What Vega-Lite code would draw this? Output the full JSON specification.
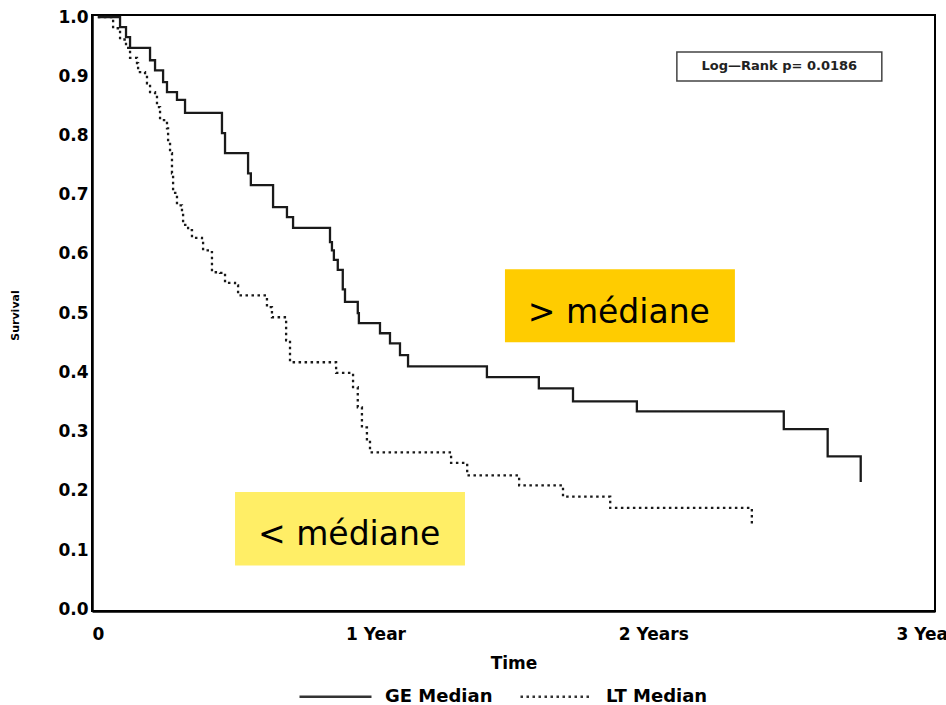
{
  "$schema": "https://vega.github.io/schema/vega-lite/v6.json",
  "width": 843,
  "height": 596,
  "autosize": {"type": "none"},
  "padding": {"left": 92, "top": 15, "right": 11, "bottom": 94},
  "background": "white",
  "config": {
    "view": {"stroke": "black", "strokeWidth": 2},
    "font": "DejaVu Sans",
    "axis": {
      "domainColor": "black", "domainWidth": 2.5, "tickSize": 0, "ticks": false,
      "labelFont": "DejaVu Sans", "labelFontWeight": "bold", "labelFontSize": 17, "labelColor": "black",
      "titleFont": "DejaVu Sans", "titleFontWeight": "bold", "titleColor": "black", "grid": false
    }
  },
  "datasets": {
    "curves": [
      {"group": "GE Median", "t": 0, "s": 1},
      {"group": "GE Median", "t": 0.080, "s": 0.983},
      {"group": "GE Median", "t": 0.1015, "s": 0.966},
      {"group": "GE Median", "t": 0.116, "s": 0.948},
      {"group": "GE Median", "t": 0.188, "s": 0.927},
      {"group": "GE Median", "t": 0.206, "s": 0.910},
      {"group": "GE Median", "t": 0.235, "s": 0.890},
      {"group": "GE Median", "t": 0.249, "s": 0.873},
      {"group": "GE Median", "t": 0.285, "s": 0.860},
      {"group": "GE Median", "t": 0.314, "s": 0.838},
      {"group": "GE Median", "t": 0.447, "s": 0.804},
      {"group": "GE Median", "t": 0.458, "s": 0.770},
      {"group": "GE Median", "t": 0.541, "s": 0.736},
      {"group": "GE Median", "t": 0.551, "s": 0.716},
      {"group": "GE Median", "t": 0.631, "s": 0.679},
      {"group": "GE Median", "t": 0.681, "s": 0.662},
      {"group": "GE Median", "t": 0.703, "s": 0.644},
      {"group": "GE Median", "t": 0.836, "s": 0.620},
      {"group": "GE Median", "t": 0.843, "s": 0.606},
      {"group": "GE Median", "t": 0.850, "s": 0.590},
      {"group": "GE Median", "t": 0.864, "s": 0.573},
      {"group": "GE Median", "t": 0.882, "s": 0.540},
      {"group": "GE Median", "t": 0.890, "s": 0.519},
      {"group": "GE Median", "t": 0.936, "s": 0.500},
      {"group": "GE Median", "t": 0.940, "s": 0.483},
      {"group": "GE Median", "t": 1.016, "s": 0.466},
      {"group": "GE Median", "t": 1.052, "s": 0.449},
      {"group": "GE Median", "t": 1.088, "s": 0.429},
      {"group": "GE Median", "t": 1.117, "s": 0.410},
      {"group": "GE Median", "t": 1.401, "s": 0.392},
      {"group": "GE Median", "t": 1.588, "s": 0.373},
      {"group": "GE Median", "t": 1.711, "s": 0.351},
      {"group": "GE Median", "t": 1.941, "s": 0.334},
      {"group": "GE Median", "t": 2.470, "s": 0.304},
      {"group": "GE Median", "t": 2.628, "s": 0.258},
      {"group": "GE Median", "t": 2.747, "s": 0.215},
      {"group": "LT Median", "t": 0, "s": 1},
      {"group": "LT Median", "t": 0.055, "s": 0.981},
      {"group": "LT Median", "t": 0.080, "s": 0.962},
      {"group": "LT Median", "t": 0.1015, "s": 0.948},
      {"group": "LT Median", "t": 0.116, "s": 0.931},
      {"group": "LT Median", "t": 0.141, "s": 0.922},
      {"group": "LT Median", "t": 0.145, "s": 0.907},
      {"group": "LT Median", "t": 0.170, "s": 0.902},
      {"group": "LT Median", "t": 0.177, "s": 0.888},
      {"group": "LT Median", "t": 0.188, "s": 0.873},
      {"group": "LT Median", "t": 0.206, "s": 0.868},
      {"group": "LT Median", "t": 0.213, "s": 0.848},
      {"group": "LT Median", "t": 0.224, "s": 0.826},
      {"group": "LT Median", "t": 0.249, "s": 0.812},
      {"group": "LT Median", "t": 0.253, "s": 0.790},
      {"group": "LT Median", "t": 0.260, "s": 0.770},
      {"group": "LT Median", "t": 0.267, "s": 0.736},
      {"group": "LT Median", "t": 0.271, "s": 0.703},
      {"group": "LT Median", "t": 0.285, "s": 0.682},
      {"group": "LT Median", "t": 0.303, "s": 0.671},
      {"group": "LT Median", "t": 0.307, "s": 0.649},
      {"group": "LT Median", "t": 0.325, "s": 0.640},
      {"group": "LT Median", "t": 0.339, "s": 0.627},
      {"group": "LT Median", "t": 0.375, "s": 0.623},
      {"group": "LT Median", "t": 0.379, "s": 0.606},
      {"group": "LT Median", "t": 0.404, "s": 0.603},
      {"group": "LT Median", "t": 0.411, "s": 0.569},
      {"group": "LT Median", "t": 0.440, "s": 0.568},
      {"group": "LT Median", "t": 0.458, "s": 0.551},
      {"group": "LT Median", "t": 0.494, "s": 0.547},
      {"group": "LT Median", "t": 0.505, "s": 0.530},
      {"group": "LT Median", "t": 0.609, "s": 0.510},
      {"group": "LT Median", "t": 0.627, "s": 0.493},
      {"group": "LT Median", "t": 0.678, "s": 0.454},
      {"group": "LT Median", "t": 0.692, "s": 0.417},
      {"group": "LT Median", "t": 0.858, "s": 0.399},
      {"group": "LT Median", "t": 0.919, "s": 0.375},
      {"group": "LT Median", "t": 0.936, "s": 0.341},
      {"group": "LT Median", "t": 0.951, "s": 0.307},
      {"group": "LT Median", "t": 0.969, "s": 0.285},
      {"group": "LT Median", "t": 0.980, "s": 0.265},
      {"group": "LT Median", "t": 1.272, "s": 0.247},
      {"group": "LT Median", "t": 1.330, "s": 0.226},
      {"group": "LT Median", "t": 1.517, "s": 0.209},
      {"group": "LT Median", "t": 1.675, "s": 0.190},
      {"group": "LT Median", "t": 1.845, "s": 0.171},
      {"group": "LT Median", "t": 2.355, "s": 0.139}
    ],
    "notes": [
      {"label": "> médiane", "t1": 1.466, "t2": 2.294, "s1": 0.451, "s2": 0.574, "tx": 1.876, "ty": 0.483},
      {"label": "< médiane", "t1": 0.494, "t2": 1.322, "s1": 0.074, "s2": 0.198, "tx": 0.905, "ty": 0.108}
    ],
    "logrank": [
      {"label": "Log\u2014Rank  p= 0.0186", "t1": 2.085, "t2": 2.823, "s1": 0.892, "s2": 0.941, "tx": 2.454, "ty": 0.9165}
    ]
  },
  "layer": [
    {
      "data": {"name": "notes"},
      "mark": {"type": "rect"},
      "encoding": {
        "x": {"field": "t1", "type": "quantitative", "scale": {"domain": [-0.021, 3.0145], "nice": false, "zero": false}},
        "x2": {"field": "t2"},
        "y": {"field": "s1", "type": "quantitative", "scale": {"domain": [-0.003, 1.0034], "nice": false, "zero": false}},
        "y2": {"field": "s2"},
        "fill": {"field": "label", "type": "nominal", "scale": {"domain": ["> médiane", "< médiane"], "range": ["#FFCC00", "#FFEE66"]}, "legend": null}
      }
    },
    {
      "data": {"name": "notes"},
      "mark": {"type": "text", "font": "DejaVu Sans", "fontSize": 33, "color": "black", "align": "center", "baseline": "alphabetic"},
      "encoding": {
        "x": {"field": "tx", "type": "quantitative"},
        "y": {"field": "ty", "type": "quantitative"},
        "text": {"field": "label"}
      }
    },
    {
      "data": {"name": "curves"},
      "mark": {"type": "line", "interpolate": "step-after", "color": "#1a1a1a", "strokeWidth": 2.3},
      "encoding": {
        "x": {
          "field": "t", "type": "quantitative",
          "axis": {"values": [0, 1, 2, 3], "labelExpr": "datum.value == 0 ? '0' : datum.value == 1 ? '1 Year' : datum.value + ' Years'", "title": "Time", "titleFontSize": 17, "labelPadding": 15, "titlePadding": 13, "labelFlush": false, "labelOverlap": false}
        },
        "y": {
          "field": "s", "type": "quantitative",
          "axis": {"values": [0, 0.1, 0.2, 0.3, 0.4, 0.5, 0.6, 0.7, 0.8, 0.9, 1.0], "format": ".1f", "title": "Survival", "titleFontSize": 11, "titleX": -72, "titleY": 300, "labelPadding": 4}
        },
        "strokeDash": {
          "field": "group", "type": "nominal",
          "scale": {"domain": ["GE Median", "LT Median"], "range": [[1, 0], [2.5, 3.5]]},
          "legend": {
            "title": null, "orient": "none", "direction": "horizontal", "legendX": 206, "legendY": 644,
            "symbolType": "stroke", "symbolSize": 5184, "symbolStrokeWidth": 2.3, "symbolStrokeColor": "#333",
            "labelFont": "DejaVu Sans", "labelFontWeight": "bold", "labelFontSize": 18, "labelColor": "black",
            "labelOffset": 12, "columnPadding": 22
          }
        }
      }
    },
    {
      "data": {"name": "logrank"},
      "mark": {"type": "rect", "fill": "white", "stroke": "#444", "strokeWidth": 1.5},
      "encoding": {
        "x": {"field": "t1", "type": "quantitative"},
        "x2": {"field": "t2"},
        "y": {"field": "s1", "type": "quantitative"},
        "y2": {"field": "s2"}
      }
    },
    {
      "data": {"name": "logrank"},
      "mark": {"type": "text", "font": "DejaVu Sans", "fontWeight": "bold", "fontSize": 13, "color": "#222", "align": "center", "baseline": "middle"},
      "encoding": {
        "x": {"field": "tx", "type": "quantitative"},
        "y": {"field": "ty", "type": "quantitative"},
        "text": {"field": "label"}
      }
    }
  ]
}
